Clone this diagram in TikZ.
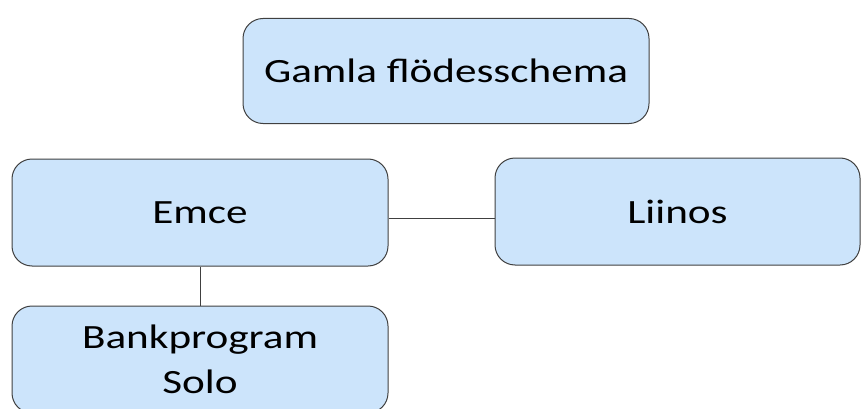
\documentclass[tikz,border=0pt]{standalone}
\usepackage{fontspec}
\setmainfont{Carlito}
\definecolor{boxfill}{HTML}{CCE4FB}
\definecolor{boxline}{HTML}{404040}
\tikzset{
  box/.style={draw=boxline, line width=1pt, fill=boxfill, rounded corners=20pt,
    inner sep=0pt, align=center, font=\fontsize{34}{45}\selectfont},
  link/.style={draw=boxline, line width=1pt}
}
\newcommand{\wide}[1]{\scalebox{1.27}[1]{#1}}
\begin{document}
\begin{tikzpicture}[x=1pt,y=-1pt]
\useasboundingbox (0,0) rectangle (861,409);
\node[box, minimum width=406pt, minimum height=105pt] (top) at (446,71) {\wide{Gamla flödesschema}};
\node[box, minimum width=376pt, minimum height=107pt] (emce) at (200,212.5) {\wide{Emce}};
\node[box, minimum width=365pt, minimum height=107pt] (liinos) at (677.5,211.5) {\wide{Liinos}};
\node[box, minimum width=376pt, minimum height=107pt] (bank) at (200,359.5) {\wide{Bankprogram}\\\wide{Solo}};
\draw[link] ([yshift=-6pt]emce.east) -- ([yshift=-7pt]liinos.west);
\draw[link] (emce.south) -- (bank.north);
\end{tikzpicture}
\end{document}
